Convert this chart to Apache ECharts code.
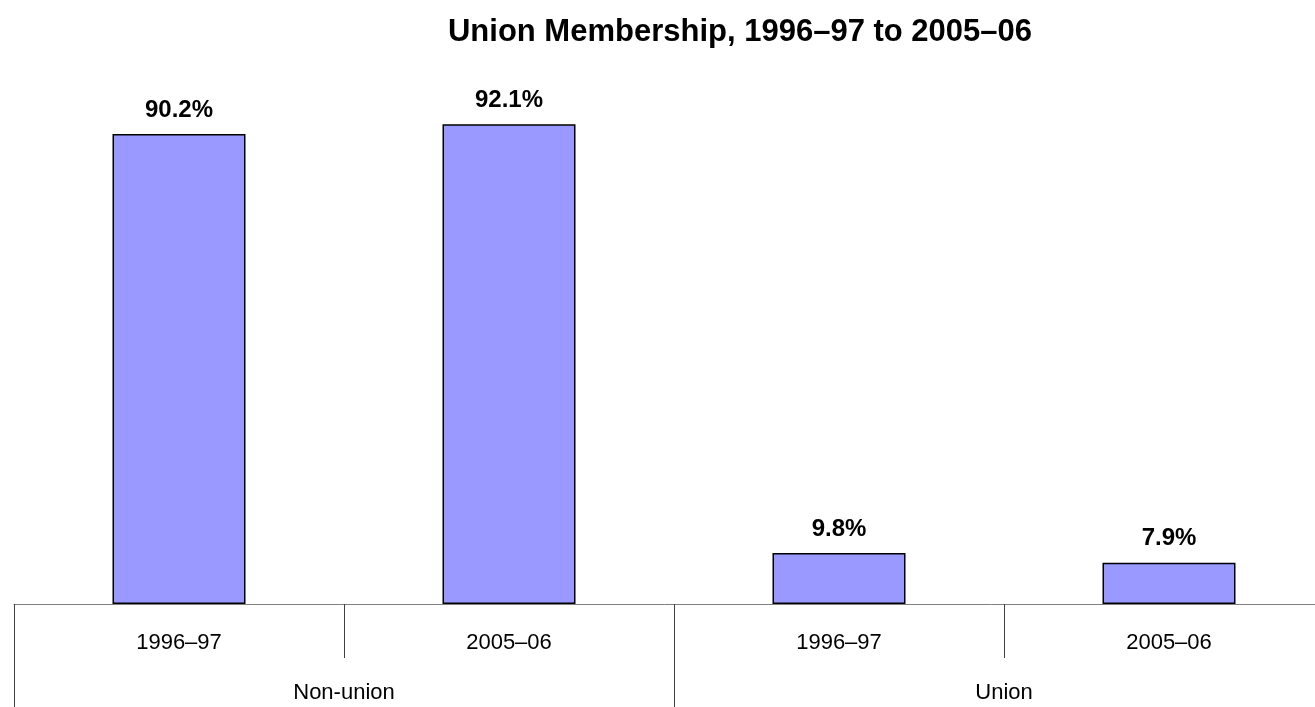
<!DOCTYPE html>
<html>
<head>
<meta charset="utf-8">
<script src="https://cdn.jsdelivr.net/npm/echarts@6/dist/echarts.min.js"></script>
<style>
  html, body { margin: 0; padding: 0; background: #fff; }
  #chart { width: 1315px; height: 707px; }
</style>
</head>
<body>
<div id="chart"></div>
<script>
const periods = ['1996–97', '2005–06', '1996–97', '2005–06']
const groups = ['Non-union', 'Union']
const shares = [90.2, 92.1, 9.8, 7.9]

const chart = echarts.init(document.getElementById('chart'))
const font = 'Liberation Sans, Arial, sans-serif'

const option = {
  animation: false,
  title: {
    text: 'Union Membership, 1996–97 to 2005–06',
    left: 735,
    top: 12,
    textAlign: 'center',
    textStyle: { fontFamily: font, fontSize: 31, fontWeight: 'bold', color: '#000' }
  },
  grid: { left: 14, top: 83, width: 1320, height: 521, containLabel: false, outerBoundsMode: 'none' },
  xAxis: [{
    type: 'category',
    data: periods,
    position: 'bottom',
    axisLine: { show: true, lineStyle: { color: '#808080', width: 1 } },
    axisTick: { show: true, alignWithLabel: false, length: 54, lineStyle: { color: '#404040' } },
    axisLabel: { margin: 28, fontFamily: font, fontSize: 22, color: '#000' }
  }, {
    type: 'category',
    data: groups,
    position: 'bottom',
    axisLine: { show: false },
    axisTick: { show: true, length: 103, lineStyle: { color: '#404040' } },
    axisLabel: { margin: 78, fontFamily: font, fontSize: 22, color: '#000' }
  }],
  yAxis: {
    type: 'value',
    min: 0,
    max: 100,
    show: false
  },
  series: [{
    type: 'bar',
    xAxisIndex: 0,
    data: shares,
    barWidth: 133,
    itemStyle: { color: '#9999FF', borderColor: '#000', borderWidth: 1.5 },
    label: {
      show: true,
      position: 'top',
      distance: 12,
      formatter: p => p.value.toFixed(1) + '%',
      fontFamily: font,
      fontSize: 24,
      fontWeight: 'bold',
      color: '#000'
    }
  }]
}

chart.setOption(option)
</script>
</body>
</html>
